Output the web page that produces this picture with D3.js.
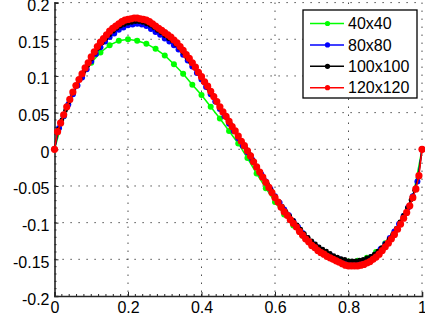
<!DOCTYPE html>
<html>
<head>
<meta charset="utf-8">
<script src="https://cdn.jsdelivr.net/npm/d3@7"></script>
<style>
  html, body { margin: 0; padding: 0; background: #fff; }
  svg { display: block; font-family: "Liberation Sans", Arial, sans-serif; }
</style>
</head>
<body>
<div id="chart"></div>
<script>
// series names (legend order)
const seriesNames = ['40x40', '80x80', '100x100', '120x120'];
const seriesColors = ['#00ff00', '#0000ff', '#000000', '#ff0000'];

// values, x runs evenly from 0 to 1
const y40 = [0, 0.045, 0.076, 0.100, 0.118, 0.132, 0.142, 0.148, 0.150, 0.148,
  0.144, 0.137, 0.128, 0.116, 0.103, 0.088, 0.074, 0.058, 0.042, 0.025,
  0.008, -0.012, -0.033, -0.053, -0.072, -0.089, -0.104, -0.118, -0.130, -0.139,
  -0.146, -0.151, -0.153, -0.152, -0.148, -0.140, -0.128, -0.113, -0.093, -0.066, 0];

const y80 = [0, 0.029, 0.045, 0.061, 0.075, 0.087, 0.098, 0.109, 0.120, 0.130,
  0.139, 0.147, 0.153, 0.158, 0.163, 0.166, 0.169, 0.170, 0.171, 0.170,
  0.168, 0.164, 0.160, 0.156, 0.151, 0.147, 0.142, 0.136, 0.129, 0.121,
  0.113, 0.104, 0.095, 0.085, 0.075, 0.065, 0.055, 0.045, 0.035, 0.025,
  0.015, 0.005, -0.004, -0.014, -0.024, -0.034, -0.044, -0.054, -0.064, -0.073,
  -0.082, -0.090, -0.098, -0.106, -0.114, -0.121, -0.127, -0.133, -0.137, -0.141,
  -0.144, -0.148, -0.150, -0.153, -0.155, -0.155, -0.155, -0.153, -0.151, -0.147,
  -0.143, -0.136, -0.129, -0.121, -0.112, -0.102, -0.091, -0.079, -0.064, -0.044, 0];

const y100 = [0, 0.027, 0.040, 0.053, 0.065, 0.077, 0.087, 0.096, 0.106, 0.114,
  0.123, 0.131, 0.138, 0.145, 0.151, 0.156, 0.161, 0.165, 0.168, 0.170,
  0.172, 0.173, 0.174, 0.174, 0.173, 0.171, 0.169, 0.166, 0.162, 0.159,
  0.155, 0.151, 0.148, 0.143, 0.138, 0.132, 0.125, 0.119, 0.112, 0.105,
  0.097, 0.090, 0.082, 0.074, 0.066, 0.058, 0.050, 0.042, 0.034, 0.026,
  0.018, 0.010, 0.002, -0.006, -0.015, -0.023, -0.031, -0.040, -0.048, -0.056,
  -0.064, -0.071, -0.078, -0.085, -0.091, -0.097, -0.103, -0.109, -0.115, -0.120,
  -0.125, -0.129, -0.133, -0.136, -0.139, -0.142, -0.145, -0.147, -0.149, -0.150,
  -0.152, -0.152, -0.152, -0.151, -0.150, -0.148, -0.146, -0.143, -0.139, -0.134,
  -0.129, -0.123, -0.116, -0.108, -0.099, -0.090, -0.080, -0.069, -0.056, -0.038, 0];

const y120 = [0, 0.024, 0.036, 0.047, 0.058, 0.068, 0.078, 0.087, 0.095, 0.103,
  0.111, 0.118, 0.126, 0.133, 0.140, 0.146, 0.151, 0.156, 0.161, 0.165,
  0.168, 0.171, 0.174, 0.176, 0.177, 0.178, 0.179, 0.179, 0.178, 0.177,
  0.176, 0.174, 0.171, 0.168, 0.165, 0.162, 0.159, 0.156, 0.153, 0.149,
  0.145, 0.140, 0.135, 0.129, 0.124, 0.118, 0.112, 0.105, 0.099, 0.092,
  0.086, 0.079, 0.072, 0.065, 0.058, 0.051, 0.045, 0.038, 0.031, 0.025,
  0.018, 0.011, 0.005, -0.002, -0.009, -0.017, -0.024, -0.031, -0.038, -0.045,
  -0.052, -0.059, -0.066, -0.072, -0.079, -0.085, -0.090, -0.096, -0.101, -0.106,
  -0.112, -0.117, -0.122, -0.126, -0.131, -0.134, -0.138, -0.141, -0.143, -0.146,
  -0.148, -0.150, -0.152, -0.154, -0.156, -0.158, -0.159, -0.159, -0.159, -0.159,
  -0.158, -0.157, -0.155, -0.153, -0.150, -0.147, -0.143, -0.138, -0.133, -0.128,
  -0.122, -0.116, -0.109, -0.102, -0.094, -0.086, -0.077, -0.066, -0.054, -0.036, 0];

const xTicks = [0, 0.2, 0.4, 0.6, 0.8, 1];
const yTicks = [-0.2, -0.15, -0.1, -0.05, 0, 0.05, 0.1, 0.15, 0.2];
const yTickLabels = ['-0.2', '-0.15', '-0.1', '-0.05', '0', '0.05', '0.1', '0.15', '0.2'];
const xTickLabels = ['0', '0.2', '0.4', '0.6', '0.8', '1'];

const svgWidth = 425, svgHeight = 326;
const margin = { top: 2.6, right: 3, bottom: 30, left: 54.5 };
const width = 422 - margin.left, height = 296 - margin.top;

const svg = d3.select('#chart').append('svg')
  .attr('width', svgWidth)
  .attr('height', svgHeight);

const g = svg.append('g')
  .attr('transform', 'translate(' + margin.left + ',' + margin.top + ')');

const x = d3.scaleLinear().domain([0, 1]).range([0, width]);
const y = d3.scaleLinear().domain([-0.2, 0.2]).range([height, 0]);

// dotted grid
g.append('g')
  .selectAll('line')
  .data(xTicks.slice(1))
  .enter().append('line')
  .attr('x1', d => x(d)).attr('x2', d => x(d))
  .attr('y1', 0).attr('y2', height)
  .attr('stroke', '#222').attr('stroke-width', 1)
  .attr('stroke-dasharray', '1.2,6.8');

g.append('g')
  .selectAll('line')
  .data(yTicks.slice(1))
  .enter().append('line')
  .attr('x1', 0).attr('x2', width)
  .attr('y1', d => y(d)).attr('y2', d => y(d))
  .attr('stroke', '#222').attr('stroke-width', 1)
  .attr('stroke-dasharray', '1.2,6.8');

// axes: ticks inward, minor ticks too
const xAxis = d3.axisBottom(x).tickValues(xTicks).tickSize(-4).tickFormat((d, i) => xTickLabels[i]);
const yAxis = d3.axisLeft(y).tickValues(yTicks).tickSize(-4).tickFormat((d, i) => yTickLabels[i]);

const gx = g.append('g')
  .attr('transform', 'translate(0,' + height + ')')
  .call(xAxis);
const gy = g.append('g').call(yAxis);

[gx, gy].forEach(a => {
  a.select('.domain').attr('stroke', '#262626').attr('stroke-width', 1.6);
  a.selectAll('.tick line').attr('stroke', '#262626');
  a.selectAll('text')
    .attr('font-size', 16)
    .attr('fill', '#000')
    .attr('font-family', '"Liberation Sans", Arial, sans-serif');
});
gx.selectAll('text').attr('y', 6).attr('dy', '0.71em');
gy.selectAll('text').attr('x', -5).attr('dy', '0.5em');

const xMinor = d3.range(1, 50).map(i => i * 0.02);
const yMinor = d3.range(-19, 20).map(i => i * 0.01);
g.append('g')
  .selectAll('line')
  .data(xMinor)
  .enter().append('line')
  .attr('x1', d => x(d)).attr('x2', d => x(d))
  .attr('y1', height).attr('y2', height - 2)
  .attr('stroke', '#262626');
g.append('g')
  .selectAll('line')
  .data(yMinor)
  .enter().append('line')
  .attr('x1', 0).attr('x2', 2)
  .attr('y1', d => y(d)).attr('y2', d => y(d))
  .attr('stroke', '#262626');

// series
const allSeries = [y40, y80, y100, y120];
const markerR = [3, 3, 2.4, 3.6];

const line = d3.line()
  .x(d => x(d[0]))
  .y(d => y(d[1]));

allSeries.forEach((vals, s) => {
  const pts = vals.map((v, i) => [i / (vals.length - 1), v]);
  const sg = g.append('g');
  sg.append('path')
    .datum(pts)
    .attr('d', line)
    .attr('fill', 'none')
    .attr('stroke', seriesColors[s])
    .attr('stroke-width', 1.5);
  sg.selectAll('circle')
    .data(pts)
    .enter().append('circle')
    .attr('cx', d => x(d[0]))
    .attr('cy', d => y(d[1]))
    .attr('r', markerR[s])
    .attr('fill', seriesColors[s]);
});

// legend
const legend = svg.append('g').attr('transform', 'translate(303,10)');
legend.append('rect')
  .attr('width', 114)
  .attr('height', 88)
  .attr('fill', '#fff')
  .attr('stroke', '#000')
  .attr('stroke-width', 1.3);

const item = legend.selectAll('.item')
  .data(seriesNames)
  .enter().append('g')
  .attr('class', 'item')
  .attr('transform', (d, i) => 'translate(0,' + (13.5 + i * 21.4) + ')');

item.append('line')
  .attr('x1', 7).attr('x2', 41)
  .attr('stroke', (d, i) => seriesColors[i])
  .attr('stroke-width', 1.5);
item.append('circle')
  .attr('cx', 24.5)
  .attr('r', 2.6)
  .attr('fill', (d, i) => seriesColors[i]);
item.append('text')
  .attr('x', 45)
  .attr('dy', '0.36em')
  .attr('font-size', 16)
  .attr('fill', '#000')
  .text(d => d);
</script>
</body>
</html>
